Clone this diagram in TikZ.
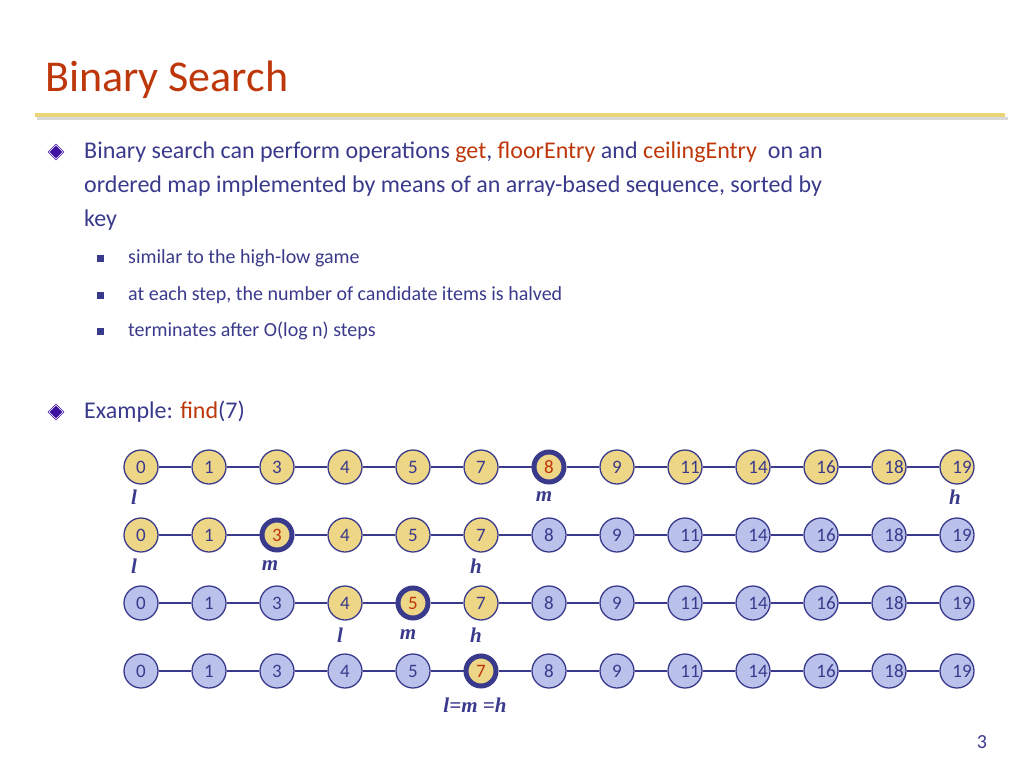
\documentclass[tikz,border=0pt]{standalone}
\usepackage{fontspec}
\usetikzlibrary{shapes.geometric}
\setmainfont{Carlito}
\newfontfamily\lblfont{Liberation Serif}
\definecolor{ttl}{RGB}{190,55,10}
\definecolor{txt}{RGB}{58,58,140}
\definecolor{gold}{RGB}{238,214,135}
\definecolor{pale}{RGB}{186,194,236}
\definecolor{bar}{RGB}{232,214,120}
\definecolor{dia}{RGB}{60,20,160}
\tikzset{
 key/.style={circle,draw=txt,line width=1.3pt,minimum size=34pt,inner sep=0pt,font=\fontsize{19}{19}\selectfont,text=txt},
 actkey/.style={key,fill=gold},
 offkey/.style={key,fill=pale},
 hitkey/.style={key,fill=gold,line width=5pt,minimum size=30pt,text=ttl},
 link/.style={draw=txt,line width=1.3pt},
 lbl/.style={font=\lblfont\bfseries\itshape\fontsize{21}{21}\selectfont,text=txt},
 body/.style={anchor=west,text=txt,font=\fontsize{24}{29}\selectfont,inner sep=0pt},
 sub/.style={anchor=west,text=txt,font=\fontsize{20}{24}\selectfont,inner sep=0pt},
}
\begin{document}
\begin{tikzpicture}[x=1pt,y=-1pt]
\useasboundingbox (0,0) rectangle (1024,768);
\node[anchor=west,text=ttl,font=\fontsize{44}{44}\selectfont,inner sep=0pt] (title) at (45,80) {Binary Search};
\fill[gray!30] (37,117) rectangle (1008,120);
\fill[bar] (35,113) rectangle (1005,117);
% bullets
\foreach \y/\n in {152/b1,412/b2}{
 \node[diamond,fill=dia,draw=white,line width=1pt,inner sep=0pt,minimum size=15pt] (\n) at (56,\y) {};
 \draw[dia,line width=0.6pt] (\n.north) -- (\n.east) -- (\n.south) -- (\n.west) -- cycle;
}
\node[body] (t1) at (84,152) {Binary search can perform operations \textcolor{ttl}{get}, \textcolor{ttl}{floorEntry} and \textcolor{ttl}{ceilingEntry}\ \ on an};
\node[body] (t2) at (84,186) {ordered map implemented by means of an array-based sequence, sorted by};
\node[body] (t3) at (84,220) {key};
\foreach \y/\s in {258/{similar to the high-low game},295/{at each step, the number of candidate items is halved},331/{terminates after O(log n) steps}}{
 \fill[txt] (97,\y-3.5) rectangle ++(7,7);
 \node[sub] at (128,\y) {\s};
}
\node[body] (t4) at (84,412) {Example: \textcolor{ttl}{find}(7)};
% rows
\def\keys{0,1,3,4,5,7,8,9,11,14,16,18,19}
\foreach \r/\y/\lo/\hi/\mi in {1/467/1/13/7, 2/535/1/6/3, 3/603/4/6/5, 4/671/6/6/6}{
 \foreach \k [count=\i] in \keys {
  \pgfmathsetmacro\xx{141+68.0*(\i-1)}
  \ifnum\i=\mi \def\st{hitkey}\else
   \ifnum\i<\lo \def\st{offkey}\else\ifnum\i>\hi \def\st{offkey}\else\def\st{actkey}\fi\fi\fi
  \ifnum\k>9 \def\sh{5pt}\else\def\sh{0pt}\fi
  \node[\st] (n\r-\i) at (\xx,\y) {\hspace*{\sh}\hspace*{\sh}\k};
 }
 \foreach \i [evaluate=\i as \j using int(\i+1)] in {1,...,12}{
  \draw[link] (n\r-\i) -- (n\r-\j);
 }
}
\node[lbl] (l1) at (134,497) {l};
\node[lbl] (m1) at (544,497) {m};
\node[lbl] (h1) at (955,497) {h};
\node[lbl] (l2) at (134,566) {l};
\node[lbl] (m2) at (270,566) {m};
\node[lbl] (h2) at (476,566) {h};
\node[lbl] (l3) at (340,635) {l};
\node[lbl] (m3) at (408,635) {m};
\node[lbl] (h3) at (476,635) {h};
\node[lbl] (e4) at (475,705) {l=m =h};
\node[text=txt,font=\fontsize{20}{20}\selectfont] (pg) at (982,742) {3};
\end{tikzpicture}
\end{document}
